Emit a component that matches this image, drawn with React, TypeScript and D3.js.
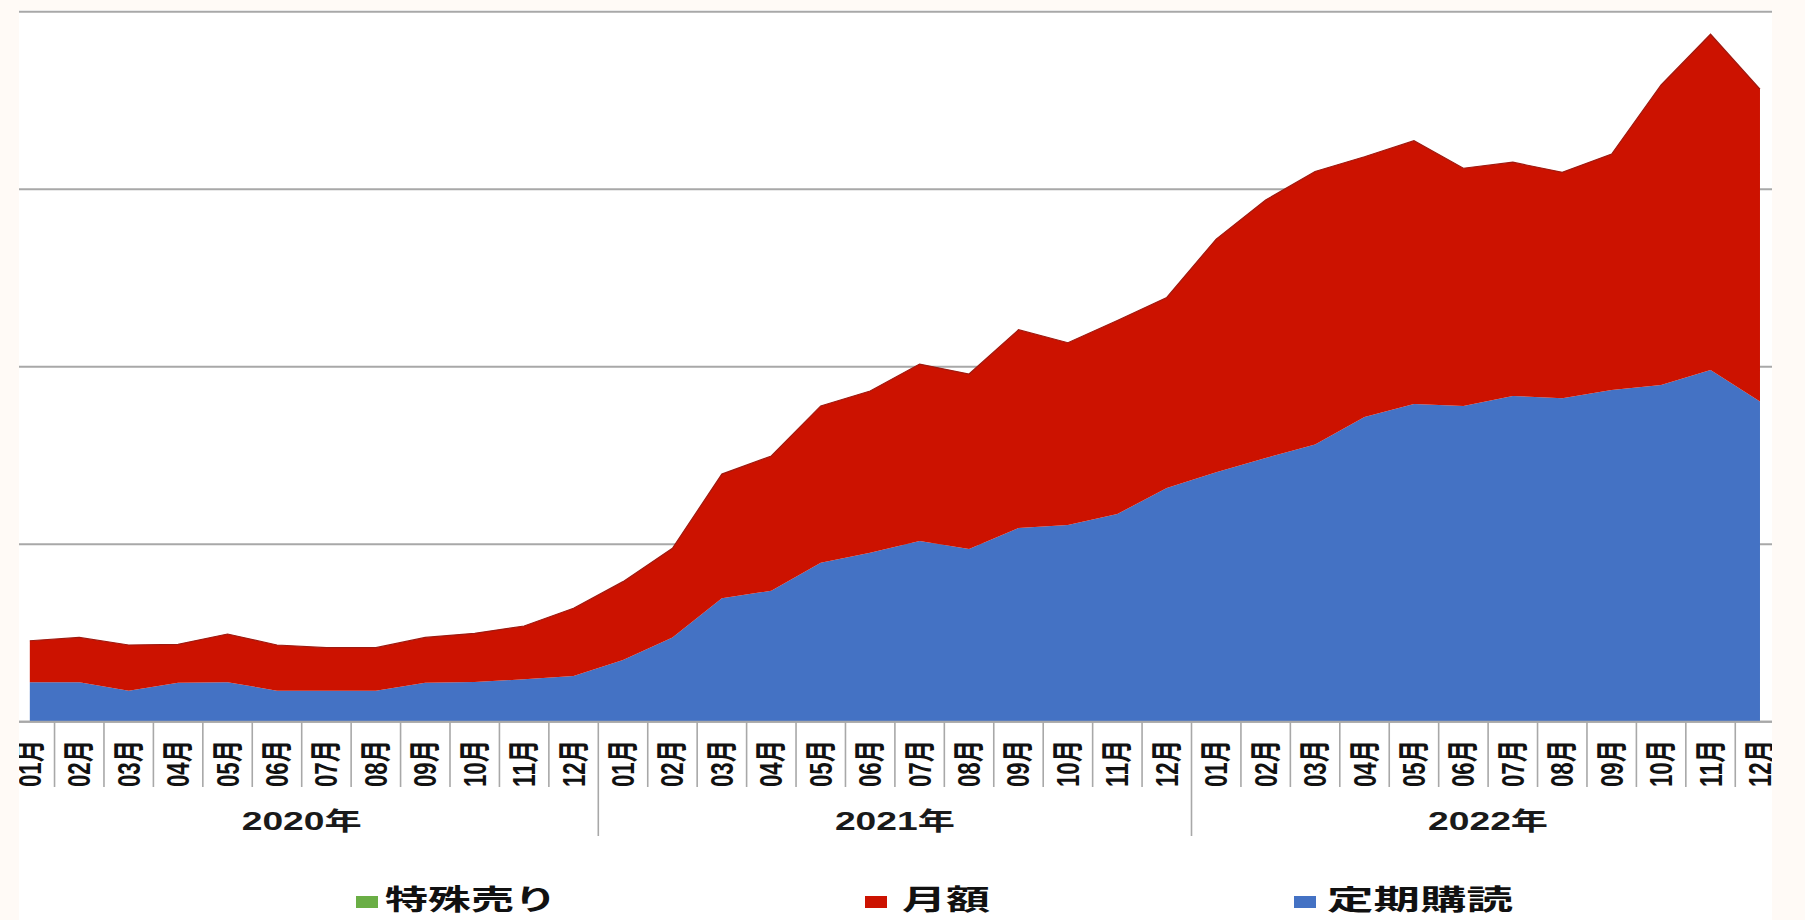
import React from 'react';
import * as d3 from 'd3';

// ---- data ----
const years = ['2020年', '2021年', '2022年'];
const monthLabels = ['01月', '02月', '03月', '04月', '05月', '06月', '07月', '08月', '09月', '10月', '11月', '12月'];

// 定期購読 (blue, bottom)
const teikiKodoku = [
  22.2, 22.2, 17.5, 22.0, 22.2, 17.5, 17.5, 17.5, 22.0, 22.4, 23.9, 25.7,
  34.8, 47.5, 69.5, 73.8, 89.6, 95.2, 101.8, 97.3, 109.1, 110.8, 117.0, 131.7,
  140.5, 148.6, 156.2, 171.7, 179.0, 177.9, 183.5, 182.2, 186.9, 189.7, 198.1, 180.4,
];
// 月額 (red, middle)
const getsugaku = [
  23.4, 25.3, 25.7, 21.6, 27.2, 25.7, 24.2, 24.2, 25.5, 27.4, 30.0, 38.2,
  44.1, 50.2, 70.0, 75.9, 88.3, 91.1, 99.7, 98.6, 111.7, 102.7, 109.0, 107.3,
  131.4, 145.3, 153.8, 146.6, 148.3, 133.9, 131.7, 127.3, 132.9, 169.0, 189.2, 175.9,
];
// 特殊売り (green, top) – not visible in the picture
const tokushuUri = [
  0, 0, 0, 0, 0, 0, 0, 0, 0, 0, 0, 0,
  0, 0, 0, 0, 0, 0, 0, 0, 0, 0, 0, 0,
  0, 0, 0, 0, 0, 0, 0, 0, 0, 0, 0, 0,
];
const yTicks = [0, 100, 200, 300, 400];

const seriesKeys = ['teiki', 'getsu', 'tokushu'];
const seriesColors: Record<string, string> = { teiki: '#4472c4', getsu: '#cc1200', tokushu: '#6aae45' };
const legendItems = [
  { key: 'tokushu', label: '特殊売り' },
  { key: 'getsu', label: '月額' },
  { key: 'teiki', label: '定期購読' },
];

const W = 1805;
const H = 920;

export default function App() {
  const clipL = 19, clipR = 1772, clipT = 10;
  const baseY = 721.7, topY = 11.7;
  const n = years.length * monthLabels.length;
  const idx = d3.range(n);

  const x = d3.scaleBand<number>().domain(idx).range([5.1, 1784.7]).paddingInner(0).paddingOuter(0);
  const bw = x.bandwidth();
  const cx = (i: number) => (x(i) as number) + bw / 2;
  const y = d3.scaleLinear().domain([0, 400]).range([baseY, topY]);

  const rows = idx.map((i) => ({ i, teiki: teikiKodoku[i], getsu: getsugaku[i], tokushu: tokushuUri[i] }));
  const stacked = d3.stack<any>().keys(seriesKeys)(rows);
  const area = d3
    .area<any>()
    .x((d) => cx(d.data.i))
    .y0((d) => y(d[0]))
    .y1((d) => y(d[1]));
  const topLine = d3
    .line<any>()
    .x((d) => cx(d.data.i))
    .y((d) => y(d[1]));

  const sansFont = "'Liberation Sans', Arial, 'Noto Sans CJK JP', sans-serif";
  const cjkFont = "'Noto Sans CJK JP', 'Liberation Sans', sans-serif";

  const legendPos = [
    { mx: 356, tx: 385, tl: 172 },
    { mx: 865, tx: 902, tl: 88 },
    { mx: 1294, tx: 1327, tl: 186 },
  ];

  return (
    <svg width={W} height={H} style={{ position: 'absolute', left: 0, top: 0 }}>
      <defs>
        <clipPath id="plotclip">
          <rect x={clipL} y={clipT} width={clipR - clipL} height={H - clipT} />
        </clipPath>
      </defs>
      <rect x={0} y={0} width={W} height={H} fill="#fffaf6" />
      <rect x={clipL} y={clipT} width={clipR - clipL} height={H - clipT} fill="#ffffff" />
      <g clipPath="url(#plotclip)">
        {yTicks.map((t) => (
          <line key={'g' + t} x1={clipL} x2={clipR} y1={y(t)} y2={y(t)} stroke="#a8a8a8" strokeWidth={2} />
        ))}
        {stacked.map((s) => (
          <path key={s.key} d={area(s) as string} fill={seriesColors[s.key]} />
        ))}
        <path d={topLine(stacked[1]) as string} fill="none" stroke="#9e1a10" strokeWidth={1.2} />
        <line x1={clipL} x2={clipR} y1={baseY} y2={baseY} stroke="#a8a8a8" strokeWidth={2} />
        {d3.range(n + 1).map((b) => {
          const bx = b < n ? (x(b) as number) : (x(n - 1) as number) + bw;
          const long = b % monthLabels.length === 0;
          return (
            <line key={'t' + b} x1={bx} x2={bx} y1={baseY} y2={long ? 836 : 787} stroke="#a8a8a8" strokeWidth={1.6} />
          );
        })}
        {idx.map((i) => (
          <text
            key={'m' + i}
            transform={`translate(${cx(i)},787) rotate(-90)`}
            fontFamily={sansFont}
            fontSize={32}
            fontWeight="bold"
            textLength={47}
            lengthAdjust="spacingAndGlyphs"
            dominantBaseline="central"
            textAnchor="start"
            fill="#111"
          >
            {monthLabels[i % monthLabels.length]}
          </text>
        ))}
        {years.map((yr, k) => {
          const start = x(k * monthLabels.length) as number;
          const end = (x((k + 1) * monthLabels.length - 1) as number) + bw;
          return (
            <text
              key={yr}
              x={(start + end) / 2}
              y={830}
              fontFamily={sansFont}
              fontSize={25}
              fontWeight="bold"
              textLength={120}
              lengthAdjust="spacingAndGlyphs"
              textAnchor="middle"
              fill="#1a1a1a"
            >
              {yr}
            </text>
          );
        })}
        {legendItems.map((it, k) => (
          <g key={it.key}>
            <rect x={legendPos[k].mx} y={896} width={22} height={12} fill={seriesColors[it.key]} />
            <text
              x={legendPos[k].tx}
              y={910}
              fontFamily={cjkFont}
              fontSize={28}
              fontWeight="bold"
              textLength={legendPos[k].tl}
              lengthAdjust="spacingAndGlyphs"
              fill="#111"
            >
              {it.label}
            </text>
          </g>
        ))}
      </g>
    </svg>
  );
}
